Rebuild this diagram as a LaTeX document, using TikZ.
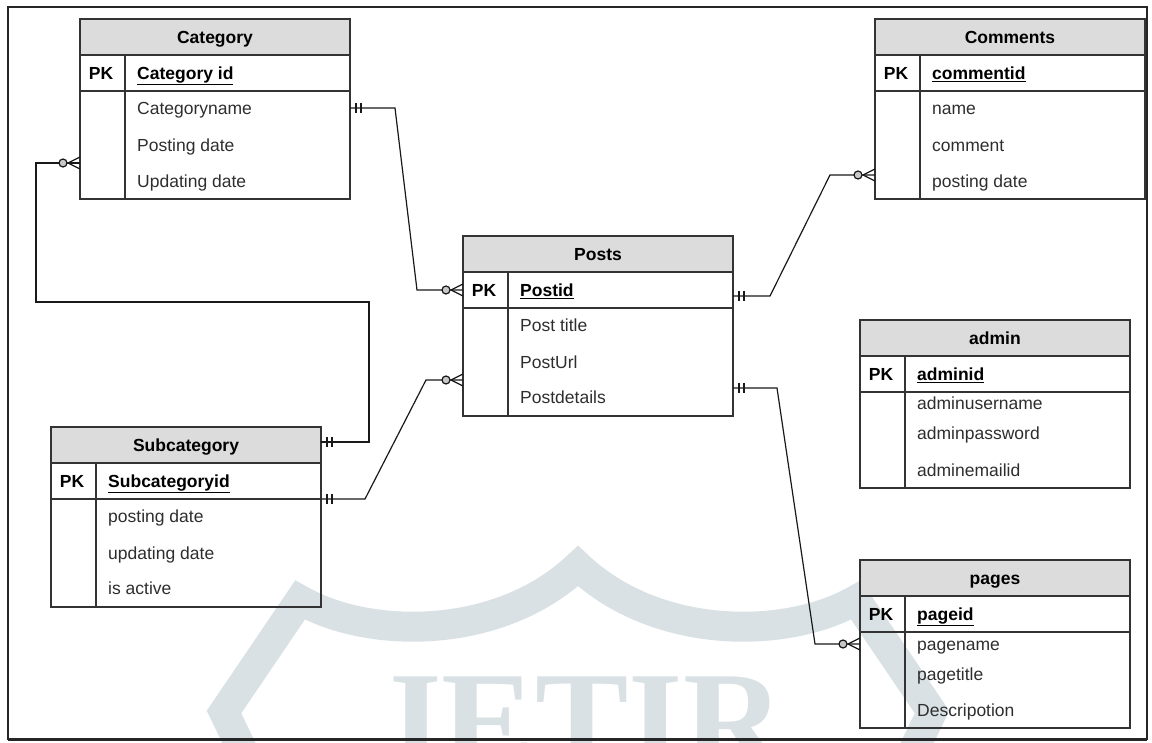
\documentclass[tikz,border=0pt]{standalone}
\usepackage{fontspec}
\setmainfont{Liberation Sans}
\newfontfamily\markfont{Liberation Serif}
\usetikzlibrary{positioning}
\definecolor{edgegray}{HTML}{333333}
\definecolor{headgray}{HTML}{DCDCDC}
\definecolor{fieldgray}{HTML}{2E2E2E}
\definecolor{marktint}{HTML}{D9E1E5}
\definecolor{ringgray}{HTML}{C8C8C8}

\tikzset{
  onemark/.pic={\draw (6,-5) -- (6,5) (11,-5) -- (11,5);},
  manymark/.pic={\draw (0,-6) -- (12,0) -- (0,6); \draw[fill=ringgray] (17,0) circle[radius=4pt];}
}

\begin{document}
\begin{tikzpicture}[x=1pt,y=-1pt,
  font=\fontsize{17.5}{20}\selectfont,
  head/.style={draw=edgegray,fill=headgray,line width=1.4pt,minimum width=270pt,minimum height=36pt,
    inner sep=0pt,outer sep=0pt,font=\fontsize{17.5}{20}\selectfont\bfseries,text height=12.5pt,text depth=0pt},
  keyrow/.style={draw=edgegray,line width=1.4pt,minimum width=270pt,minimum height=36pt,inner sep=0pt,outer sep=0pt},
  body/.style={draw=edgegray,line width=1.4pt,minimum width=270pt,minimum height=108pt,inner sep=0pt,outer sep=0pt},
  pk/.style={inner sep=0pt,font=\fontsize{17.5}{20}\selectfont\bfseries,text height=12.5pt,text depth=0pt},
  keyname/.style={anchor=west,inner sep=0pt,font=\fontsize{17.5}{20}\selectfont\bfseries,text height=12.5pt,text depth=0pt},
  field/.style={anchor=west,inner sep=0pt,text=fieldgray,text height=12.5pt,text depth=0pt},
  split/.style={draw=edgegray,line width=1.4pt},
  link/.style={draw=black!90,line width=1.2pt}]
\useasboundingbox (0,0) rectangle (1152,743);

% watermark behind the diagram
\begin{scope}
  \clip (0,0) rectangle (1152,743);
  \draw[marktint,line width=30pt,line join=miter]
    (252,770) -- (224,712) -- (300,600) .. controls (370,640) and (500,640) .. (578,566)
    .. controls (656,640) and (786,640) .. (856,600) -- (932,712) -- (904,770);
  \node[anchor=base,inner sep=0pt,text=marktint,font=\markfont\fontsize{140}{140}\selectfont\bfseries]
    (mark) at (578,768) {JETIR};
\end{scope}

\draw[line width=2pt,black!85] (8,7) rectangle (1147,739);
\draw[line width=3pt,black!85] (8,739) -- (1147,739);

% Category
\node[head,anchor=north west] (cat) at (80,19) {Category};
\node[keyrow,below=0pt of cat] (catpk) {};
\node[body,below=0pt of catpk] (catbody) {};
\draw[split] ([xshift=45pt]catpk.north west) -- ([xshift=45pt]catbody.south west);
\node[pk] at ([xshift=21pt]catpk.west) {PK};
\node[keyname] at ([xshift=57pt]catpk.west) {\underline{Category id}};
\node[field] (catf1) at ([xshift=57pt,yshift=-17pt]catbody.north west) {Categoryname};
\node[field] (catf2) at ([xshift=57pt,yshift=-54pt]catbody.north west) {Posting date};
\node[field] (catf3) at ([xshift=57pt,yshift=-90pt]catbody.north west) {Updating date};

% Comments
\node[head,anchor=north west] (com) at (875,19) {Comments};
\node[keyrow,below=0pt of com] (compk) {};
\node[body,below=0pt of compk] (combody) {};
\draw[split] ([xshift=45pt]compk.north west) -- ([xshift=45pt]combody.south west);
\node[pk] at ([xshift=21pt]compk.west) {PK};
\node[keyname] at ([xshift=57pt]compk.west) {\underline{commentid}};
\node[field] (comf1) at ([xshift=57pt,yshift=-17pt]combody.north west) {name};
\node[field] (comf2) at ([xshift=57pt,yshift=-54pt]combody.north west) {comment};
\node[field] (comf3) at ([xshift=57pt,yshift=-90pt]combody.north west) {posting date};

% Posts
\node[head,anchor=north west] (post) at (463,236) {Posts};
\node[keyrow,below=0pt of post] (postpk) {};
\node[body,below=0pt of postpk] (postbody) {};
\draw[split] ([xshift=45pt]postpk.north west) -- ([xshift=45pt]postbody.south west);
\node[pk] at ([xshift=21pt]postpk.west) {PK};
\node[keyname] at ([xshift=57pt]postpk.west) {\underline{Postid}};
\node[field] (postf1) at ([xshift=57pt,yshift=-17pt]postbody.north west) {Post title};
\node[field] (postf2) at ([xshift=57pt,yshift=-54pt]postbody.north west) {PostUrl};
\node[field] (postf3) at ([xshift=57pt,yshift=-89pt]postbody.north west) {Postdetails};

% Subcategory
\node[head,anchor=north west] (sub) at (51,427) {Subcategory};
\node[keyrow,below=0pt of sub] (subpk) {};
\node[body,below=0pt of subpk] (subbody) {};
\draw[split] ([xshift=45pt]subpk.north west) -- ([xshift=45pt]subbody.south west);
\node[pk] at ([xshift=21pt]subpk.west) {PK};
\node[keyname] at ([xshift=57pt]subpk.west) {\underline{Subcategoryid}};
\node[field] (subf1) at ([xshift=57pt,yshift=-17pt]subbody.north west) {posting date};
\node[field] (subf2) at ([xshift=57pt,yshift=-54pt]subbody.north west) {updating date};
\node[field] (subf3) at ([xshift=57pt,yshift=-89pt]subbody.north west) {is active};

% admin
\node[head,anchor=north west] (adm) at (860,320) {admin};
\node[keyrow,below=0pt of adm] (admpk) {};
\node[body,minimum height=96pt,below=0pt of admpk] (admbody) {};
\draw[split] ([xshift=45pt]admpk.north west) -- ([xshift=45pt]admbody.south west);
\node[pk] at ([xshift=21pt]admpk.west) {PK};
\node[keyname] at ([xshift=57pt]admpk.west) {\underline{adminid}};
\node[field] (admf1) at ([xshift=57pt,yshift=-11pt]admbody.north west) {adminusername};
\node[field] (admf2) at ([xshift=57pt,yshift=-41pt]admbody.north west) {adminpassword};
\node[field] (admf3) at ([xshift=57pt,yshift=-78pt]admbody.north west) {adminemailid};

% pages
\node[head,anchor=north west] (pg) at (860,560) {pages};
\node[keyrow,below=0pt of pg] (pgpk) {};
\node[body,minimum height=96pt,below=0pt of pgpk] (pgbody) {};
\draw[split] ([xshift=45pt]pgpk.north west) -- ([xshift=45pt]pgbody.south west);
\node[pk] at ([xshift=21pt]pgpk.west) {PK};
\node[keyname] at ([xshift=57pt]pgpk.west) {\underline{pageid}};
\node[field] (pgf1) at ([xshift=57pt,yshift=-12pt]pgbody.north west) {pagename};
\node[field] (pgf2) at ([xshift=57pt,yshift=-42pt]pgbody.north west) {pagetitle};
\node[field] (pgf3) at ([xshift=57pt,yshift=-78pt]pgbody.north west) {Descripotion};

% relations
\draw[link] (catf1 -| catbody.east) -- ++(45,0) -- ([xshift=-46pt]postpk.west) -- (postpk.west);
\draw[link] ([yshift=-6pt]postpk.east) -- ++(37,0) -- ([xshift=-45pt,yshift=24pt]combody.south west)
  -- ([yshift=24pt]combody.south west);
\draw[link] ([yshift=-18pt]catbody.west) -- ++(-44,0) -- ++(0,139)
  -| ([xshift=48pt,yshift=3pt]sub.east) -- ([yshift=3pt]sub.east);
\draw[link] (subpk.south east) -- ++(44,0) -- ([xshift=-37pt,yshift=-72pt]postbody.north west)
  -- ([yshift=-72pt]postbody.north west);
\draw[link] ([yshift=-80pt]postbody.north east) -- ++(44,0) -- ([xshift=-45pt,yshift=-12pt]pgbody.north west)
  -- ([yshift=-12pt]pgbody.north west);

\pic[link] at (catf1 -| catbody.east) {onemark};
\pic[link,rotate=180] at (postpk.west) {manymark};
\pic[link] at ([yshift=-6pt]postpk.east) {onemark};
\pic[link,rotate=180] at ([yshift=24pt]combody.south west) {manymark};
\pic[link,rotate=180] at ([yshift=-18pt]catbody.west) {manymark};
\pic[link] at ([yshift=3pt]sub.east) {onemark};
\pic[link] at (subpk.south east) {onemark};
\pic[link,rotate=180] at ([yshift=-72pt]postbody.north west) {manymark};
\pic[link] at ([yshift=-80pt]postbody.north east) {onemark};
\pic[link,rotate=180] at ([yshift=-12pt]pgbody.north west) {manymark};
\end{tikzpicture}
\end{document}
